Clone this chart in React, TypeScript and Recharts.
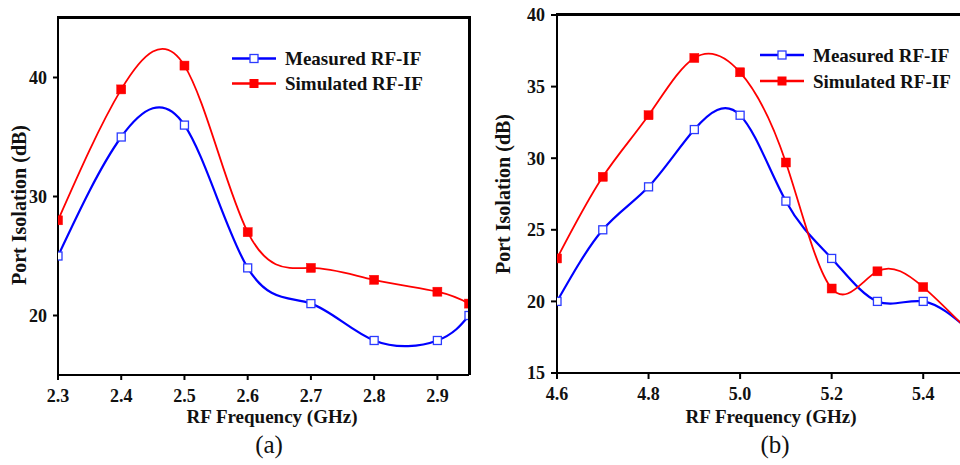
import React from 'react';
import { LineChart, Line, XAxis, YAxis, Legend } from 'recharts';

// ---------- data (a) ----------
const freqA = [2.3, 2.4, 2.5, 2.6, 2.7, 2.8, 2.9, 2.95];
const measuredA = [25, 35, 36, 24, 21, 17.9, 17.9, 20];
const simulatedA = [28, 39, 41, 27, 24, 23, 22, 21];
const xTicksA = [2.3, 2.4, 2.5, 2.6, 2.7, 2.8, 2.9];
const yTicksA = [20, 30, 40];
const xDomainA = [2.3, 2.95];
const yDomainA = [15, 45];

// ---------- data (b) ----------
const freqB = [4.6, 4.7, 4.8, 4.9, 5.0, 5.1, 5.2, 5.3, 5.4, 5.5];
const measuredB = [20, 25, 28, 32, 33, 27, 23, 20, 20, 18];
const simulatedB = [23, 28.7, 33, 37, 36, 29.7, 20.9, 22.1, 21, 17.9];
const xTicksB = [4.6, 4.8, 5.0, 5.2, 5.4];
const yTicksB = [15, 20, 25, 30, 35, 40];
const xDomainB = [4.6, 5.5];
const yDomainB = [15, 40];

const seriesNames = ['Measured RF-IF', 'Simulated RF-IF'];

const tableA = freqA.map((f, i) => ({ f, m: measuredA[i], s: simulatedA[i] }));
const tableB = freqB.map((f, i) => ({ f, m: measuredB[i], s: simulatedB[i] }));

const FONT = '"Times New Roman", "Liberation Serif", "DejaVu Serif", serif';
const BLUE = '#0000ff';
const RED = '#ff0000';

const OpenSquare = (props: any) => {
  const { cx, cy, index } = props;
  if (cx == null || cy == null) return <g key={`o${index}`} />;
  return (
    <rect key={`o${index}`} x={cx - 4} y={cy - 4} width={8} height={8}
      fill="#ffffff" stroke="#2b3bff" strokeWidth={1.3} />
  );
};

const FilledSquare = (props: any) => {
  const { cx, cy, index } = props;
  if (cx == null || cy == null) return <g key={`f${index}`} />;
  return (
    <rect key={`f${index}`} x={cx - 4.5} y={cy - 4.5} width={9} height={9}
      fill={RED} stroke={RED} strokeWidth={0.5} />
  );
};

const LegendBox = ({ rowH }: { rowH: number }) => (
  <div style={{ fontFamily: FONT, fontWeight: 700, fontSize: 19, color: '#111' }}>
    {seriesNames.map((name, i) => (
      <div key={name} style={{ display: 'flex', alignItems: 'center', height: rowH, whiteSpace: 'nowrap' }}>
        <svg width={53} height={rowH} style={{ display: 'block' }}>
          <line x1={0} x2={44} y1={rowH / 2} y2={rowH / 2} stroke={i === 0 ? BLUE : RED} strokeWidth={2.5} />
          {i === 0 ? (
            <rect x={18} y={rowH / 2 - 4} width={8} height={8} fill="#fff" stroke="#2b3bff" strokeWidth={1.3} />
          ) : (
            <rect x={17.5} y={rowH / 2 - 4.5} width={9} height={9} fill={RED} />
          )}
        </svg>
        <span style={{ lineHeight: 1 }}>{name}</span>
      </div>
    ))}
  </div>
);

const tickStyle = { fontFamily: FONT, fontWeight: 700, fontSize: 18, fill: '#111' };
const axisLine = { stroke: '#000', strokeWidth: 2 };

export default function App() {
  return (
    <div style={{ position: 'absolute', left: 0, top: 0, width: 960, height: 465, overflow: 'hidden', background: '#fff' }}>
      {/* ---------- (a) ---------- */}
      <div style={{ position: 'absolute', left: 0, top: 0 }}>
        <LineChart width={480} height={465} data={tableA} margin={{ top: 18, right: 11, bottom: 50, left: 8 }}>
          <XAxis dataKey="f" type="number" domain={xDomainA} ticks={xTicksA} allowDataOverflow
            tickFormatter={(v: number) => v.toFixed(1)} tick={tickStyle} tickSize={5} tickMargin={9}
            axisLine={axisLine} tickLine={axisLine} height={40}
            label={{ content: () => (
              <text x={272} y={423} textAnchor="middle" fontFamily={FONT} fontWeight={700} fontSize={19} fill="#111">RF Frequency (GHz)</text>
            ) }} />
          <YAxis type="number" domain={yDomainA} ticks={yTicksA} allowDataOverflow tick={tickStyle}
            tickSize={5} tickMargin={6} axisLine={axisLine} tickLine={axisLine} width={50}
            label={{ content: () => (
              <text x={26} y={205} transform="rotate(-90 26 205)" textAnchor="middle" fontFamily={FONT} fontWeight={700} fontSize={20} fill="#111">Port Isolation (dB)</text>
            ) }} />
          <Legend layout="vertical" align="center" verticalAlign="middle"
            wrapperStyle={{ position: 'absolute', left: 232, top: 45.5, width: 'auto', height: 'auto' }}
            content={() => <LegendBox rowH={25} />} />
          <Line type="natural" dataKey="m" stroke={BLUE} strokeWidth={2.2} dot={OpenSquare} isAnimationActive={false} />
          <Line type="natural" dataKey="s" stroke={RED} strokeWidth={1.8} dot={FilledSquare} isAnimationActive={false} />
        </LineChart>
      </div>
      {/* plot frame (top and right edges) of (a) */}
      <div style={{ position: 'absolute', left: 57, top: 16, width: 414, height: 359, boxSizing: 'border-box',
        borderTop: '3px solid #000', borderRight: '3px solid #000', pointerEvents: 'none', zIndex: 5 }} />
      <div style={{ position: 'absolute', left: 219, width: 100, top: 430, textAlign: 'center', fontFamily: FONT, fontSize: 25, color: '#111', lineHeight: '30px' }}>(a)</div>

      {/* ---------- (b) ---------- */}
      <div style={{ position: 'absolute', left: 480, top: 0 }}>
        <LineChart width={500} height={465} data={tableB} margin={{ top: 15, right: 11, bottom: 52, left: 27 }}>
          <XAxis dataKey="f" type="number" domain={xDomainB} ticks={xTicksB} allowDataOverflow
            tickFormatter={(v: number) => v.toFixed(1)} tick={tickStyle} tickSize={6} tickMargin={8}
            axisLine={axisLine} tickLine={axisLine} height={40}
            label={{ content: () => (
              <text x={291} y={423} textAnchor="middle" fontFamily={FONT} fontWeight={700} fontSize={19} fill="#111">RF Frequency (GHz)</text>
            ) }} />
          <YAxis type="number" domain={yDomainB} ticks={yTicksB} allowDataOverflow tick={tickStyle}
            tickSize={6} tickMargin={6} axisLine={axisLine} tickLine={axisLine} width={50}
            label={{ content: () => (
              <text x={30} y={194} transform="rotate(-90 30 194)" textAnchor="middle" fontFamily={FONT} fontWeight={700} fontSize={20} fill="#111">Port Isolation (dB)</text>
            ) }} />
          <Legend layout="vertical" align="center" verticalAlign="middle"
            wrapperStyle={{ position: 'absolute', left: 280, top: 42, width: 'auto', height: 'auto' }}
            content={() => <LegendBox rowH={26} />} />
          <Line type="natural" dataKey="m" stroke={BLUE} strokeWidth={2.2} dot={OpenSquare} isAnimationActive={false} />
          <Line type="natural" dataKey="s" stroke={RED} strokeWidth={1.8} dot={FilledSquare} isAnimationActive={false} />
        </LineChart>
      </div>
      {/* plot frame (top edge) of (b) */}
      <div style={{ position: 'absolute', left: 556, top: 13, width: 414, height: 361, boxSizing: 'border-box',
        borderTop: '3px solid #000', borderRight: '3px solid #000', pointerEvents: 'none', zIndex: 5 }} />
      <div style={{ position: 'absolute', left: 725, width: 100, top: 430, textAlign: 'center', fontFamily: FONT, fontSize: 25, color: '#111', lineHeight: '30px' }}>(b)</div>
    </div>
  );
}
